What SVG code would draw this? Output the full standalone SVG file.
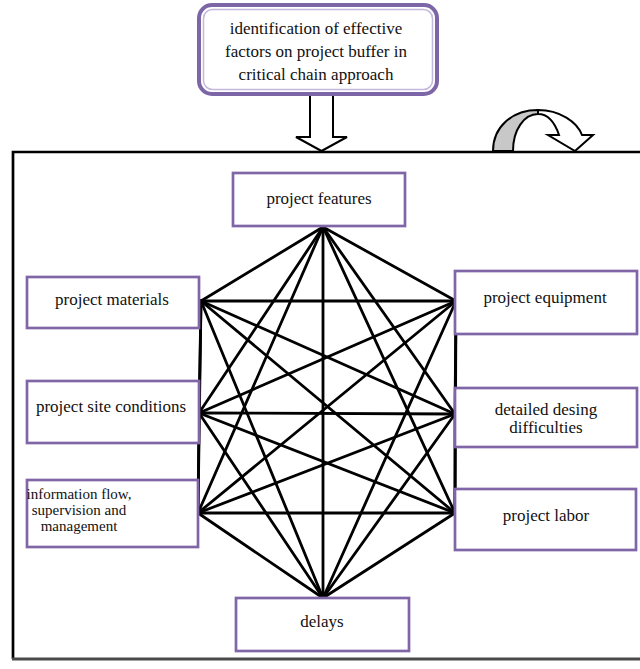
<svg xmlns="http://www.w3.org/2000/svg" width="640" height="669" viewBox="0 0 640 669">
<style>
.node{fill:#fff;stroke:#8066a6;stroke-width:2.7}
.t{font-family:"Liberation Serif","Times New Roman","DejaVu Serif",serif;font-size:17px;fill:#111;text-anchor:middle}
.s{font-size:15px}
.e line{stroke:#000;stroke-width:2.8;stroke-linecap:round}
.arr{fill:#fff;stroke:#000;stroke-width:2;stroke-linejoin:miter}
</style>
<rect width="640" height="669" fill="#fff"/>
<g id="frame">
<path d="M640,152 H13 V659" fill="none" stroke="#000" stroke-width="2.7"/>
<path d="M12,659 H640" fill="none" stroke="#4a4a4a" stroke-width="3"/>
</g>
<g id="down-arrow">
<path class="arr" d="M310,95 H333 V137 H347 L321.5,151 L296,137 H310 Z"/>
</g>
<g id="cycle-arrow">
<path d="M493,151 C493,127 512,110 538,110 L538,114 C524,114 513,130 513,151 Z" fill="#c8c8c8" stroke="#000" stroke-width="2"/>
<path d="M538,110 C560,110 577,122 582,135 L593,135 L575,151 L548,135 L559,135 C555,123 548,114 538,114 Z" fill="#fff" stroke="#000" stroke-width="2"/>
</g>
<g id="top">
<rect x="199" y="5" width="238" height="89" rx="13" fill="#fff" stroke="#7d66a8" stroke-width="4"/>
<rect x="203.5" y="9.5" width="229" height="80" rx="9" fill="none" stroke="#c4b8dc" stroke-width="1.5"/>
<text class="t" x="316" y="34">identification of effective</text>
<text class="t" x="316" y="57">factors on project buffer in</text>
<text class="t" x="316" y="80">critical chain approach</text>
</g>
<g class="e" id="connectors">
<line x1="323" y1="227" x2="201" y2="301"/>
<line x1="323" y1="227" x2="456" y2="301"/>
<line x1="323" y1="227" x2="199" y2="413"/>
<line x1="323" y1="227" x2="455" y2="414"/>
<line x1="323" y1="227" x2="198" y2="513"/>
<line x1="323" y1="227" x2="455" y2="513"/>
<line x1="323" y1="227" x2="323" y2="598"/>
<line x1="201" y1="301" x2="456" y2="301"/>
<line x1="201" y1="301" x2="199" y2="413"/>
<line x1="201" y1="301" x2="455" y2="414"/>
<line x1="201" y1="301" x2="198" y2="513"/>
<line x1="201" y1="301" x2="455" y2="513"/>
<line x1="201" y1="301" x2="323" y2="598"/>
<line x1="456" y1="301" x2="199" y2="413"/>
<line x1="456" y1="301" x2="455" y2="414"/>
<line x1="456" y1="301" x2="198" y2="513"/>
<line x1="456" y1="301" x2="455" y2="513"/>
<line x1="456" y1="301" x2="323" y2="598"/>
<line x1="199" y1="413" x2="455" y2="414"/>
<line x1="199" y1="413" x2="198" y2="513"/>
<line x1="199" y1="413" x2="455" y2="513"/>
<line x1="199" y1="413" x2="323" y2="598"/>
<line x1="455" y1="414" x2="198" y2="513"/>
<line x1="455" y1="414" x2="455" y2="513"/>
<line x1="455" y1="414" x2="323" y2="598"/>
<line x1="198" y1="513" x2="455" y2="513"/>
<line x1="198" y1="513" x2="323" y2="598"/>
<line x1="455" y1="513" x2="323" y2="598"/>
</g>
<g id="features">
<rect class="node" x="233" y="173" width="172" height="53"/>
<text class="t" x="319" y="204">project features</text>
</g>
<g id="materials">
<rect class="node" x="27" y="277" width="172" height="51"/>
<text class="t" x="112" y="305">project materials</text>
</g>
<g id="site">
<rect class="node" x="27" y="381" width="172" height="62"/>
<text class="t" x="111" y="412">project site conditions</text>
</g>
<g id="information">
<rect class="node" x="27" y="480" width="171" height="67"/>
<text class="t s" x="79" y="499">information flow,</text>
<text class="t s" x="79" y="515">supervision and</text>
<text class="t s" x="79" y="531">management</text>
</g>
<g id="equipment">
<rect class="node" x="455" y="271" width="182" height="63"/>
<text class="t" x="545" y="303">project equipment</text>
</g>
<g id="design">
<rect class="node" x="455" y="388" width="182" height="59"/>
<text class="t" x="546" y="415">detailed desing</text>
<text class="t" x="546" y="433">difficulties</text>
</g>
<g id="labor">
<rect class="node" x="455" y="489" width="181" height="61"/>
<text class="t" x="546" y="521">project labor</text>
</g>
<g id="delays">
<rect class="node" x="236" y="598" width="173" height="53"/>
<text class="t" x="322" y="627">delays</text>
</g>
</svg>
